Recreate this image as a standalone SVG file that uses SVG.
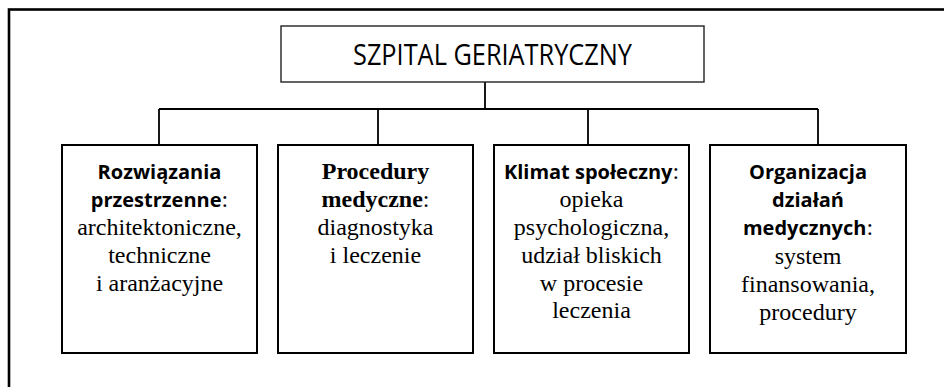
<svg xmlns="http://www.w3.org/2000/svg" width="944" height="387" viewBox="0 0 944 387">
<style>
.frame{fill:none;stroke:#000;stroke-width:2.6}
.box{fill:#fff;stroke:#000;stroke-width:2}
.title{fill:#fff;stroke:#222;stroke-width:1.4}
.conn{fill:none;stroke:#000;stroke-width:1.8}
.t{font-family:"Liberation Serif","Times New Roman",serif;font-size:24px;fill:#000;text-anchor:middle}
.sb{font-family:"Open Sans","Liberation Sans",sans-serif;font-weight:bold;font-size:20px}
.tb{font-weight:bold}
.tt{font-family:"Open Sans","Liberation Sans",sans-serif;font-size:28.5px;fill:#000;text-anchor:middle}
</style>
<rect width="944" height="387" fill="#fff"/>
<rect class="frame" x="9" y="9.5" width="960" height="400"/>
<g id="connectors">
<path class="conn" d="M485 82V109M159 109H818M159 109V145M378 109V145M588 109V145M818 109V145"/>
</g>
<g id="root">
<rect class="title" x="281" y="26" width="423" height="56"/>
<text class="tt" x="492.5" y="65" textLength="279" lengthAdjust="spacingAndGlyphs">SZPITAL GERIATRYCZNY</text>
</g>
<g id="n1">
<rect class="box" x="62" y="145" width="195" height="208"/>
<text class="t" x="159.5" y="179"><tspan class="sb">Rozwiązania</tspan></text>
<text class="t" x="159.5" y="207"><tspan class="sb">przestrzenne</tspan>:</text>
<text class="t" x="159.5" y="235">architektoniczne,</text>
<text class="t" x="159.5" y="263">techniczne</text>
<text class="t" x="159.5" y="291">i aranżacyjne</text>
</g>
<g id="n2">
<rect class="box" x="278" y="145" width="195" height="208"/>
<text class="t" x="375.5" y="179"><tspan class="tb">Procedury</tspan></text>
<text class="t" x="375.5" y="207"><tspan class="tb">medyczne</tspan>:</text>
<text class="t" x="375.5" y="235">diagnostyka</text>
<text class="t" x="375.5" y="263">i leczenie</text>
</g>
<g id="n3">
<rect class="box" x="494" y="145" width="195" height="208"/>
<text class="t" x="591.5" y="179"><tspan class="sb">Klimat społeczny</tspan>:</text>
<text class="t" x="591.5" y="207">opieka</text>
<text class="t" x="591.5" y="235">psychologiczna,</text>
<text class="t" x="591.5" y="263">udział bliskich</text>
<text class="t" x="591.5" y="291">w procesie</text>
<text class="t" x="591.5" y="318">leczenia</text>
</g>
<g id="n4">
<rect class="box" x="710" y="145" width="196" height="208"/>
<text class="t" x="808" y="179"><tspan class="sb">Organizacja</tspan></text>
<text class="t" x="808" y="207"><tspan class="sb">działań</tspan></text>
<text class="t" x="808" y="235"><tspan class="sb">medycznych</tspan>:</text>
<text class="t" x="808" y="264">system</text>
<text class="t" x="808" y="292">finansowania,</text>
<text class="t" x="808" y="320">procedury</text>
</g>
</svg>
